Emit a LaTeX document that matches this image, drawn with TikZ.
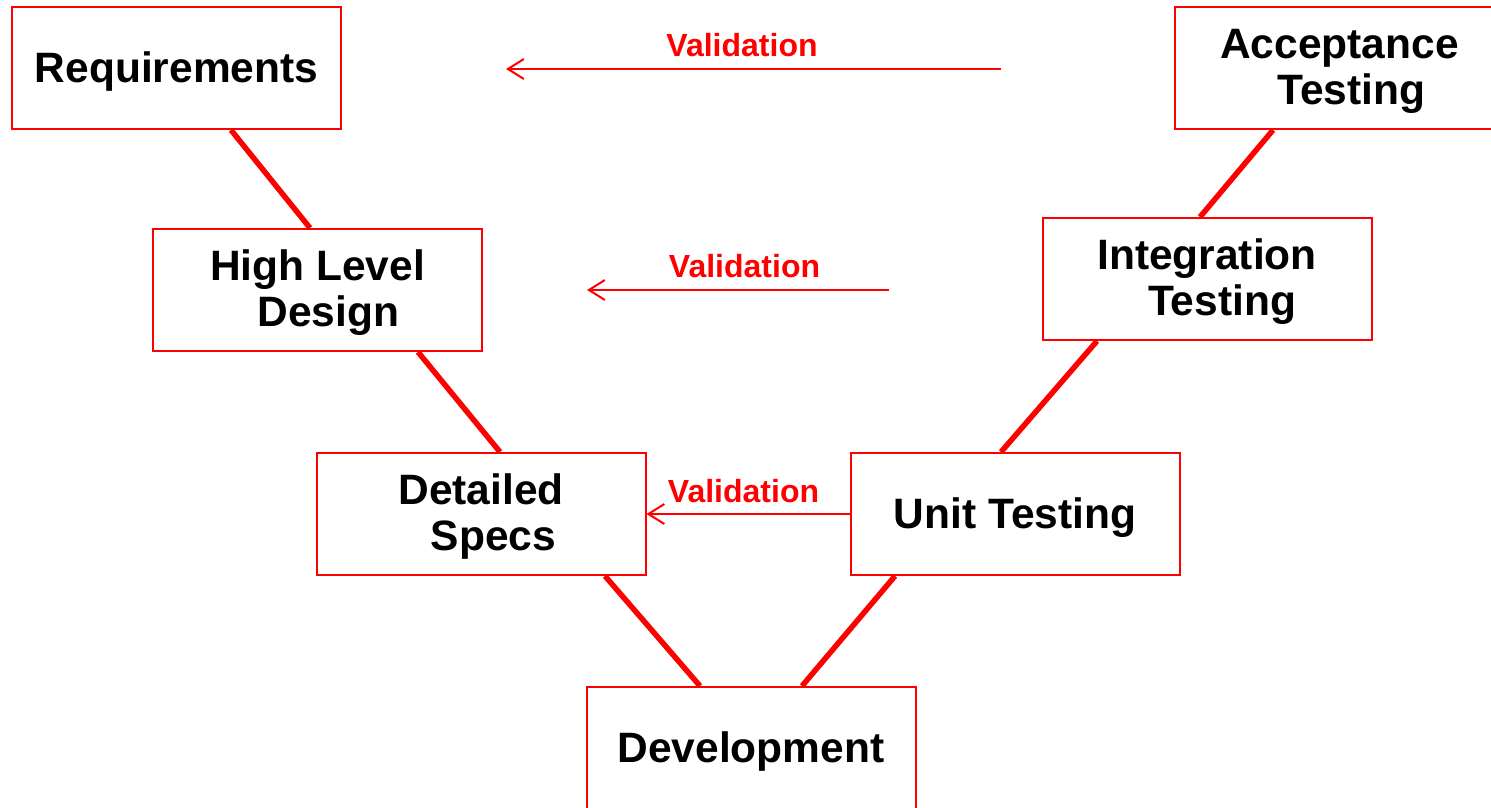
\documentclass[tikz,border=0pt]{standalone}
\usepackage{fontspec}
\setmainfont{Liberation Sans}
\usetikzlibrary{arrows.meta}
\tikzset{
  vbox/.style={draw=red, line width=2pt, minimum width=329pt, minimum height=122pt,
    inner sep=0pt, font=\bfseries\fontsize{42.5}{46}\selectfont, align=center},
  onel/.style={vbox, text height=28pt, text depth=0pt},
  twol/.style={vbox, text height=74pt, text depth=2pt},
  vlink/.style={red, line width=5.5pt},
  valarrow/.style={red, line width=2pt, -{Straight Barb[length=16pt,width=20pt,line width=2pt]}},
  vlabel/.style={text=red, font=\bfseries\fontsize{32}{36}\selectfont, inner sep=0pt, anchor=base}
}
\begin{document}
\begin{tikzpicture}[x=1pt,y=-1pt]
\useasboundingbox (0,0) rectangle (1491,808);
\node[onel] (req) at (176.5,68) {Requirements};
\node[twol] (hld) at (317.5,290) {High Level\\\hspace*{22pt}Design};
\node[twol] (ds) at (481,514) {Detailed\\\hspace*{25pt}Specs};
\node[onel] (dev) at (751,748) {Development};
\node[onel] (ut) at (1015,514) {Unit Testing};
\node[twol] (it) at (1207,279) {Integration\\\hspace*{30pt}Testing};
\node[twol] (at) at (1339.5,68) {Acceptance\\\hspace*{24pt}Testing};

\draw[vlink] ([xshift=54.5pt]req.south) -- ([xshift=-7.5pt]hld.north);
\draw[vlink] ([xshift=100.5pt]hld.south) -- ([xshift=19pt]ds.north);
\draw[vlink] ([xshift=124pt]ds.south) -- ([xshift=-51pt]dev.north);
\draw[vlink] ([xshift=51pt]dev.north) -- ([xshift=-120pt]ut.south);
\draw[vlink] ([xshift=-14pt]ut.north) -- ([xshift=-110pt]it.south);
\draw[vlink] ([xshift=-7pt]it.north) -- ([xshift=-66.5pt]at.south);

\coordinate (a1s) at (1001,69);
\coordinate (a1e) at (506,69);
\coordinate (a2s) at (889,290);
\coordinate (a2e) at (587,290);
\draw[valarrow] (a1s) -- (a1e);
\draw[valarrow] (a2s) -- (a2e);
\draw[valarrow] (ut.west) -- (ds.east);
\node[vlabel] (v1) at (742,57) {Validation};
\node[vlabel] (v2) at (744.5,277) {Validation};
\node[vlabel] (v3) at (743.5,502) {Validation};
\end{tikzpicture}
\end{document}
